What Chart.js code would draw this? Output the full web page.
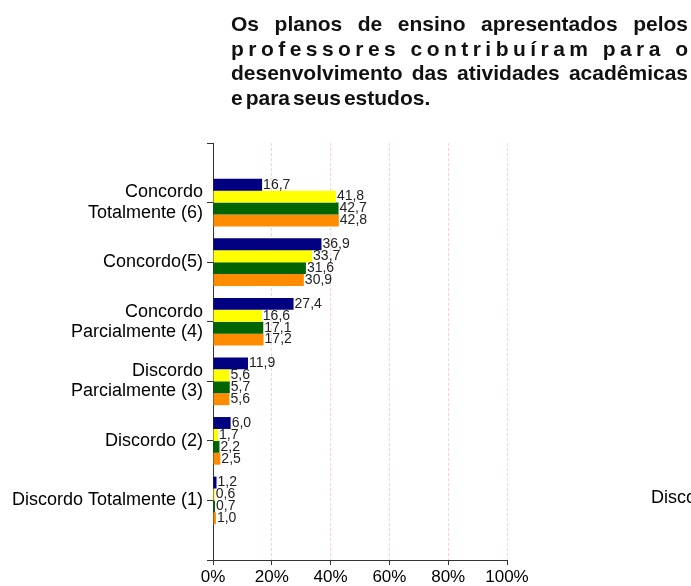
<!DOCTYPE html>
<html>
<head>
<meta charset="utf-8">
<script src="https://cdn.jsdelivr.net/npm/chart.js"></script>
<style>
  body { margin: 0; background: #fff; }
  #wrap { position: relative; width: 691px; height: 586px; }
</style>
</head>
<body>
<div id="wrap"><canvas id="myChart"></canvas></div>
<script>
// DATA
const categories = [
  ['Concordo', 'Totalmente (6)'],
  'Concordo(5)',
  ['Concordo', 'Parcialmente (4)'],
  ['Discordo', 'Parcialmente (3)'],
  'Discordo (2)',
  'Discordo Totalmente (1)'
];
const serie1 = [16.7, 36.9, 27.4, 11.9, 6.0, 1.2];
const serie2 = [41.8, 33.7, 16.6, 5.6, 1.7, 0.6];
const serie3 = [42.7, 31.6, 17.1, 5.7, 2.2, 0.7];
const serie4 = [42.8, 30.9, 17.2, 5.6, 2.5, 1.0];
const xTicks = [0, 20, 40, 60, 80, 100];
const titleLines = [
  'Os planos de ensino apresentados pelos',
  'professores contribuíram para o',
  'desenvolvimento das atividades acadêmicas',
  'e para seus estudos.'
];
// neighbouring chart's label, cut by the picture edge
const cutLabel = 'Discordo Totalmente (1)';

// empty slot at top and bottom, like the original axis
const labels = [''].concat(categories, ['']);
const pad = arr => [null].concat(arr, [null]);

const data = {
  labels: labels,
  datasets: [
    { label: 'Série 1', data: pad(serie1), backgroundColor: '#000080' },
    { label: 'Série 2', data: pad(serie2), backgroundColor: '#FFFF00' },
    { label: 'Série 3', data: pad(serie3), backgroundColor: '#006400' },
    { label: 'Série 4', data: pad(serie4), backgroundColor: '#FF8C00' }
  ]
};

// values next to the bars
const valueLabels = {
  id: 'valueLabels',
  afterDatasetsDraw(chart) {
    const ctx = chart.ctx;
    ctx.save();
    ctx.font = '14px "Liberation Sans", Arial, sans-serif';
    ctx.fillStyle = '#222';
    ctx.textBaseline = 'middle';
    ctx.textAlign = 'left';
    chart.data.datasets.forEach((ds, i) => {
      chart.getDatasetMeta(i).data.forEach((bar, j) => {
        const v = ds.data[j];
        if (v == null) return;
        ctx.fillText(v.toFixed(1).replace('.', ','), bar.x + 1, bar.y);
      });
    });
    ctx.restore();
  }
};

// justified title + cut label
const titleText = {
  id: 'titleText',
  afterDraw(chart) {
    const ctx = chart.ctx;
    const left = 231, right = 688, top = 31, lh = 24.5;
    const modes = ['word', 'char', 'word', 'none'];
    ctx.save();
    ctx.font = 'bold 21px "Liberation Sans", Arial, sans-serif';
    ctx.fillStyle = '#111';
    ctx.textBaseline = 'alphabetic';
    titleLines.forEach((line, k) => {
      const y = top + k * lh;
      const w = right - left;
      if (modes[k] === 'char') {
        const chars = line.split('');
        const total = chars.reduce((s, c) => s + ctx.measureText(c).width, 0);
        const gap = (w - total) / (chars.length - 1);
        let x = left;
        chars.forEach(c => { ctx.fillText(c, x, y); x += ctx.measureText(c).width + gap; });
      } else if (modes[k] === 'word') {
        const words = line.split(' ');
        const total = words.reduce((s, c) => s + ctx.measureText(c).width, 0);
        const gap = (w - total) / (words.length - 1);
        let x = left;
        words.forEach(c => { ctx.fillText(c, x, y); x += ctx.measureText(c).width + gap; });
      } else {
        const words = line.split(' ');
        let x = left;
        words.forEach(c => { ctx.fillText(c, x, y); x += ctx.measureText(c).width + 3; });
      }
    });
    ctx.font = '18px "Liberation Sans", Arial, sans-serif';
    ctx.fillStyle = '#000';
    ctx.textBaseline = 'middle';
    ctx.fillText(cutLabel, 651, 498);
    ctx.restore();
  }
};

const config = {
  type: 'bar',
  data: data,
  options: {
    indexAxis: 'y',
    responsive: true,
    maintainAspectRatio: false,
    animation: false,
    layout: { padding: { left: 0, top: 143, right: 184, bottom: 0 } },
    datasets: { bar: { categoryPercentage: 0.8, barPercentage: 1.0 } },
    plugins: {
      legend: { display: false },
      title: { display: false },
      tooltip: { enabled: false }
    },
    scales: {
      x: {
        min: 0,
        max: 100,
        afterBuildTicks: scale => { scale.ticks = xTicks.map(v => ({ value: v })); },
        afterFit: scale => { scale.height = 26; },
        ticks: {
          callback: v => v + '%',
          color: '#000',
          padding: 2,
          maxRotation: 0,
          font: { family: '"Liberation Sans", Arial, sans-serif', size: 17 }
        },
        grid: {
          color: ctx => ctx.index === 0 ? 'rgba(0,0,0,0)' : '#FFD0DA',
          tickColor: '#333',
          tickLength: 5
        },
        border: { color: '#333', width: 1, dash: [3, 2] }
      },
      y: {
        offset: false,
        afterFit: scale => { scale.width = 213; },
        ticks: {
          color: '#000',
          padding: 4,
          autoSkip: false,
          font: { family: '"Liberation Sans", Arial, sans-serif', size: 18, lineHeight: 1.12 }
        },
        grid: {
          offset: false,
          drawOnChartArea: false,
          color: '#333',
          tickLength: 6
        },
        border: { color: '#333', width: 1 }
      }
    }
  },
  plugins: [valueLabels, titleText]
};

var myChart = new Chart(document.getElementById('myChart'), config);
</script>
</body>
</html>
